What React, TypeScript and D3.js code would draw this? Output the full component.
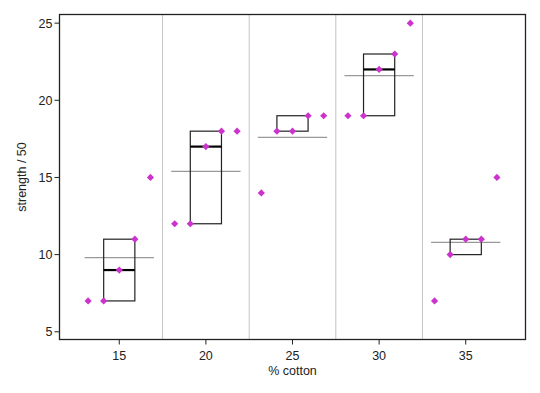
import React from "react";
import * as d3 from "d3";

const cottonLevels = [15, 20, 25, 30, 35];
const strengthValues = [
  [7, 7, 9, 11, 15],
  [12, 12, 17, 18, 18],
  [14, 18, 18, 19, 19],
  [19, 19, 22, 23, 25],
  [7, 10, 11, 11, 15],
];
const jitterOffsets = [-1.8, -0.9, 0, 0.9, 1.8];
const separators = [17.5, 22.5, 27.5, 32.5];
const xTicks = [15, 20, 25, 30, 35];
const yTicks = [5, 10, 15, 20, 25];

const W = 540;
const H = 393;
const left = 59.5;
const right = 525.5;
const top = 14.5;
const bottom = 339.5;

export default function App() {
  const x = d3.scaleLinear().domain([11.55, 38.45]).range([left, right]);
  const y = d3.scaleLinear().domain([4.5, 25.56]).range([bottom, top]);
  const diamond = d3.symbol().type(d3.symbolSquare).size(26)();
  const font = "Liberation Sans, Arial, sans-serif";

  return (
    <svg width={W} height={H} style={{ position: "absolute", left: 0, top: 0 }}>
      <rect x={0} y={0} width={W} height={H} fill="#fff" />
      {separators.map((s) => (
        <line key={s} x1={x(s)} x2={x(s)} y1={top} y2={bottom} stroke="#c4c4c4" strokeWidth={1} />
      ))}
      {cottonLevels.map((c, i) => {
        const vals = strengthValues[i];
        const q1 = d3.quantile(vals, 0.25)!;
        const q3 = d3.quantile(vals, 0.75)!;
        const med = d3.median(vals)!;
        const mean = d3.mean(vals)!;
        const showMedian = med !== q1 && med !== q3;
        return (
          <g key={c}>
            <line x1={x(c - 2)} x2={x(c + 2)} y1={y(mean)} y2={y(mean)} stroke="#999" strokeWidth={1.2} />
            <rect
              x={x(c - 0.9)}
              y={y(q3)}
              width={x(c + 0.9) - x(c - 0.9)}
              height={y(q1) - y(q3)}
              fill="none"
              stroke="#222"
              strokeWidth={1.2}
            />
            {showMedian && (
              <line x1={x(c - 0.9)} x2={x(c + 0.9)} y1={y(med)} y2={y(med)} stroke="#000" strokeWidth={2.2} />
            )}
            {vals.map((v, j) => (
              <path
                key={j}
                d={diamond}
                transform={`translate(${x(c + jitterOffsets[j])},${y(v)}) rotate(45)`}
                fill="#cc33cc"
              />
            ))}
          </g>
        );
      })}
      <rect x={left} y={top} width={right - left} height={bottom - top} fill="none" stroke="#222" strokeWidth={1.3} />
      {yTicks.map((t) => (
        <g key={t}>
          <line x1={left - 5} x2={left} y1={y(t)} y2={y(t)} stroke="#222" strokeWidth={1} />
          <text x={left - 7} y={y(t)} dy="0.35em" textAnchor="end" fontSize={12.5} fontFamily={font} fill="#222">
            {t}
          </text>
        </g>
      ))}
      {xTicks.map((t) => (
        <g key={t}>
          <line x1={x(t)} x2={x(t)} y1={bottom} y2={bottom + 5} stroke="#222" strokeWidth={1} />
          <text x={x(t)} y={bottom + 20} textAnchor="middle" fontSize={12.5} fontFamily={font} fill="#222">
            {t}
          </text>
        </g>
      ))}
      <text x={(left + right) / 2} y={375} textAnchor="middle" fontSize={12.5} fontFamily={font} fill="#222">
        % cotton
      </text>
      <text
        transform={`translate(26,${(top + bottom) / 2}) rotate(-90)`}
        textAnchor="middle"
        fontSize={12.5}
        fontFamily={font}
        fill="#222"
      >
        strength / 50
      </text>
    </svg>
  );
}
